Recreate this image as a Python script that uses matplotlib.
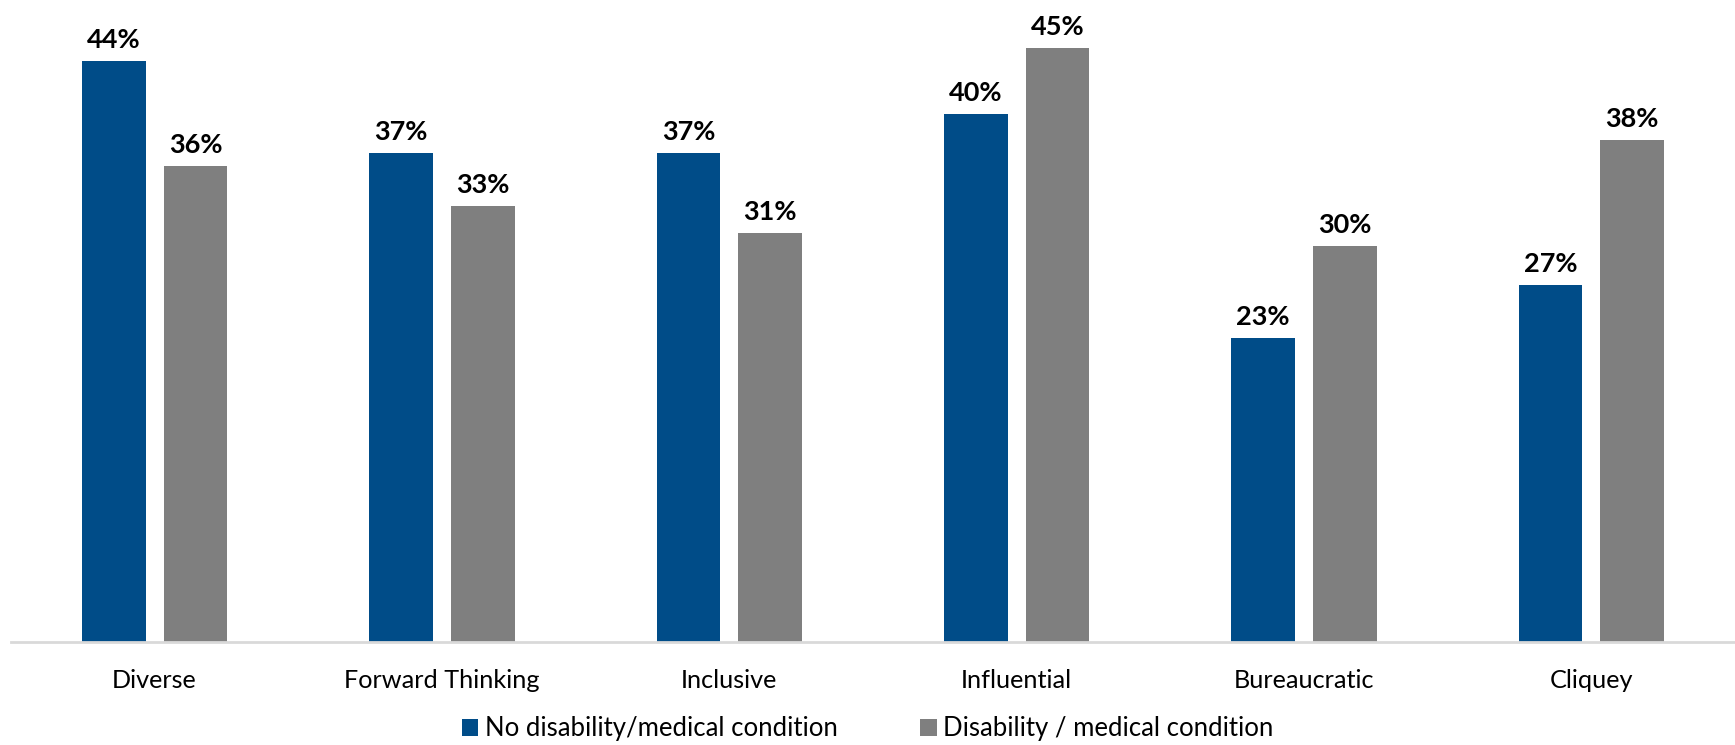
import numpy as np
import matplotlib.pyplot as plt

categories = ["Diverse", "Forward Thinking", "Inclusive", "Influential", "Bureaucratic", "Cliquey"]
no_disability = [44, 37, 37, 40, 23, 27]
disability = [36, 33, 31, 45, 30, 38]
series_names = ["No disability/medical condition", "Disability / medical condition"]

blue = "#004C88"
grey = "#7F7F7F"

plt.rcParams['font.family'] = ['Lato', 'DejaVu Sans']

fig = plt.figure(figsize=(17.35, 7.45), dpi=100)
ax = fig.add_axes([0.0063, 0.138, 0.9937, 0.862])

x = np.arange(len(categories))
w = 0.222
off = 0.142

b1 = ax.bar(x - off, no_disability, w, color=blue, label=series_names[0])
b2 = ax.bar(x + off, disability, w, color=grey, label=series_names[1])

for bars, vals in [(b1, no_disability), (b2, disability)]:
    for rect, v in zip(bars, vals):
        ax.annotate(f"{v}%", (rect.get_x() + rect.get_width() / 2, v),
                    xytext=(0, 9), textcoords="offset pixels",
                    ha="center", va="bottom", fontsize=19.5, fontweight="bold")

ax.set_xlim(-0.5, 5.5)
ax.set_ylim(0, 48.6)
ax.set_yticks([])
ax.set_xticks(x)
ax.set_xticklabels(categories, fontsize=18.2)
ax.tick_params(axis="x", length=0, pad=19)
for s in ["top", "right", "left"]:
    ax.spines[s].set_visible(False)
ax.spines["bottom"].set_color("#D9D9D9")
ax.spines["bottom"].set_linewidth(2)

fig.legend(loc="center", bbox_to_anchor=(0.5, 0.022), ncol=2, frameon=False,
           fontsize=18.5, handlelength=0.65, handleheight=0.65, handletextpad=0.25,
           columnspacing=3.2)

fig.savefig("out.png", dpi=100)
